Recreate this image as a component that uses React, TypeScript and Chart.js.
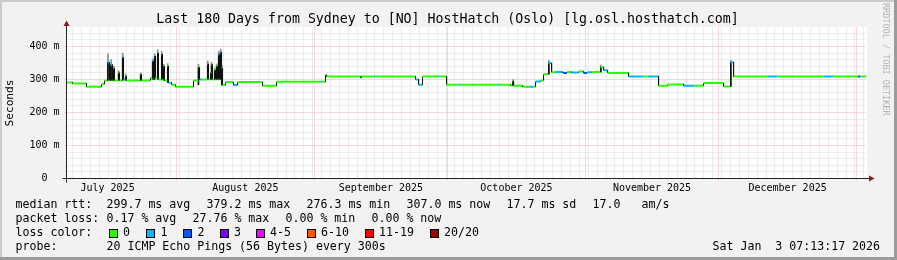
import React, { useEffect, useRef } from "react";
import { Chart, registerables } from "chart.js";

Chart.register(...registerables);

const W = 897;
const H = 260;
const MONO = "'DejaVu Sans Mono', monospace";

const TITLE = "Last 180 Days from Sydney to [NO] HostHatch (Oslo) [lg.osl.hosthatch.com]";

// x unit: days since 2025-07-01 00:00 (Sydney time)
const X_START = 6.26;
const X_END = 186.26;
const MONTH_STARTS = [31, 62, 92, 123, 153, 184];
const MONTH_MIDS = [15.5, 46.5, 77, 107.5, 138, 168.5];
const MONTH_LABELS = ["July 2025", "August 2025", "September 2025", "October 2025", "November 2025", "December 2025"];
const MINOR_X_FIRST = 7.66;
const MINOR_X_STEP = 2;

const Y_MAX = 457.5;
const Y_TICKS = [0, 100, 200, 300, 400];
const Y_TICK_LABELS = ["0  ", "100 m", "200 m", "300 m", "400 m"];
const Y_MINOR_STEP = 20;

// median rtt (ms) as steps: start day, value, loss level index
const medianDay = [
  6.26, 7.61, 10.76, 14.14, 14.81, 15.49, 15.94, 16.16, 16.61, 16.84,
  17.06, 17.96, 18.19, 18.86, 19.09, 19.54, 19.76, 22.91, 23.14, 25.16,
  25.61, 25.84, 26.06, 26.29, 26.74, 26.96, 27.64, 27.86, 28.09, 28.31,
  28.99, 29.21, 29.89, 30.79, 34.84, 35.96, 36.19, 36.86, 37.99, 38.21,
  38.66, 38.89, 39.11, 39.56, 39.79, 40.01, 40.24, 40.46, 40.69, 40.91,
  41.14, 41.36, 42.04, 43.84, 44.74, 50.36, 53.51, 63.42, 63.87, 64.54,
  64.77, 72.42, 72.64, 75.34, 75.79, 84.79, 85.47, 86.37, 89.74, 90.19,
  91.77, 94.47, 94.92, 103.24, 103.69, 106.17, 106.62, 106.85, 108.87, 110.5,
  111.2, 111.8, 112.92, 113.6, 114.72, 115.4, 116.3, 118.0, 118.9, 120.0,
  121.5, 122.6, 123.4, 124.5, 126.42, 127.1, 128.0, 132.72, 136.0, 137.0,
  139.47, 141.5, 145.1, 147.5, 149.6, 154.1, 155.67, 156.35, 163.96, 166.25,
  176.6, 178.85, 184.26, 184.93,
];
const medianMs = [
  291, 288, 278, 286, 297, 352, 297, 345, 297, 333,
  297, 320, 297, 366, 300, 310, 297, 315, 297, 305,
  355, 300, 370, 305, 380, 300, 376, 300, 340, 297,
  340, 290, 284, 278, 297, 336, 300, 300, 347, 300,
  322, 345, 300, 328, 300, 340, 300, 375, 300, 382,
  335, 283, 292, 283, 292, 281, 293, 293, 293, 314,
  309, 305, 309, 309, 309, 300, 284, 309, 309, 309,
  284, 284, 284, 284, 284, 282, 294, 281, 278, 278,
  278, 294, 297, 316, 350, 322, 323, 320, 323, 321,
  324, 320, 322, 323, 338, 328, 320, 309, 309, 309,
  281, 285, 281, 281, 289, 279, 352, 309, 309, 309,
  309, 309, 309, 309,
];
const medianLoss = [
  0, 0, 0, 0, 0, 1, 0, 1, 0, 0,
  0, 0, 0, 1, 1, 0, 0, 0, 0, 0,
  1, 0, 1, 0, 1, 0, 0, 0, 0, 0,
  0, 1, 0, 0, 0, 0, 1, 0, 0, 0,
  0, 0, 0, 0, 0, 0, 0, 1, 0, 1,
  0, 0, 0, 1, 0, 0, 0, 1, 0, 0,
  0, 0, 0, 1, 0, 1, 1, 0, 1, 0,
  0, 1, 0, 1, 0, 0, 0, 0, 0, 1,
  0, 1, 0, 0, 1, 0, 1, 2, 0, 1,
  0, 2, 1, 0, 0, 1, 0, 1, 0, 1,
  0, 0, 1, 0, 0, 0, 1, 0, 1, 0,
  1, 0, 2, 0,
];

// smoke (ping spread) around spikes: day, low, dense high, sparse top (ms)
const smokeDay = [15.6, 16.3, 16.9, 18.0, 18.9, 19.6, 22.95, 25.65, 26.1, 26.8, 27.7, 28.15, 29.05, 35.95, 38.05, 38.9, 39.6, 40.05, 40.5, 40.95, 41.2, 106.7, 114.8, 126.5, 155.75];
const smokeLow = [297, 297, 297, 297, 297, 297, 297, 300, 300, 300, 300, 297, 290, 284, 300, 300, 300, 300, 300, 300, 283, 281, 316, 322, 279];
const smokeHigh = [352, 345, 333, 320, 366, 310, 315, 355, 370, 380, 376, 340, 340, 336, 347, 345, 328, 340, 375, 382, 335, 294, 350, 338, 352];
const smokeTop = [378, 360, 340, 326, 380, 316, 320, 362, 378, 390, 385, 346, 348, 346, 356, 353, 334, 347, 385, 392, 342, 300, 357, 344, 358];

const LOSS_BINS = ["0", "1", "2", "3", "4-5", "6-10", "11-19", "20/20"];
const LOSS_COLORS = ["#26ff00", "#00b8ff", "#0059ff", "#7e00ff", "#f000ff", "#ff5500", "#ff0000", "#a10000"];

const RTT_LABEL = "median rtt:";
const RTT_STATS = ["299.7 ms avg", "379.2 ms max", "276.3 ms min", "307.0 ms now", "17.7 ms sd", "17.0", "am/s"];
const LOSS_LABEL = "packet loss:";
const LOSS_STATS = ["0.17 % avg", "27.76 % max", "0.00 % min", "0.00 % now"];
const LOSS_COLOR_LABEL = "loss color:";
const PROBE_LABEL = "probe:";
const PROBE_TEXT = "20 ICMP Echo Pings (56 Bytes) every 300s";
const STAMP = "Sat Jan  3 07:13:17 2026";
const WATERMARK = "RRDTOOL / TOBI OETIKER";
const Y_TITLE = "Seconds";

// layout positions (px)
const RTT_X = [106.5, 206.5, 306.5, 406.5, 506.5, 592.5, 641.5];
const LOSS_X = [106.5, 192.5, 285.5, 371.5];
const BIN_LABEL_X = [123, 160.5, 197.5, 234, 270, 321, 379, 444];
const ROW_TOP = [196.5, 210.6, 225, 238.5];

const snap = (v: number) => Math.floor(v) + 0.5;

const framePlugin = {
  id: "rrdframe",
  beforeDraw(chart: any) {
    const { ctx, chartArea } = chart;
    ctx.save();
    ctx.fillStyle = "#f2f2f2";
    ctx.fillRect(0, 0, W, H);
    ctx.fillStyle = "#cbcbcb";
    ctx.fillRect(0, 0, W, 2);
    ctx.fillRect(0, 0, 2, H);
    ctx.fillStyle = "#9b9b9b";
    ctx.fillRect(0, H - 3, W, 3);
    ctx.fillRect(W - 3, 0, 3, H);
    ctx.fillStyle = "#ffffff";
    const l = Math.floor(chartArea.left);
    const t = Math.floor(chartArea.top);
    ctx.fillRect(l, t, Math.ceil(chartArea.right) - l, Math.ceil(chartArea.bottom) - t);
    ctx.restore();
  },
  beforeDatasetsDraw(chart: any) {
    const { ctx, chartArea, scales } = chart;
    const x = scales.x;
    const y = scales.y;
    ctx.save();
    ctx.lineWidth = 1;
    ctx.setLineDash([1, 1]);
    // minor grid
    ctx.strokeStyle = "#dadada";
    for (let v = Y_MINOR_STEP; v < Y_MAX; v += Y_MINOR_STEP) {
      if (v % 100 === 0) continue;
      const py = snap(y.getPixelForValue(v));
      ctx.beginPath();
      ctx.moveTo(chartArea.left, py);
      ctx.lineTo(chartArea.right, py);
      ctx.stroke();
    }
    for (let d = MINOR_X_FIRST; d <= X_END; d += MINOR_X_STEP) {
      const px = snap(x.getPixelForValue(d));
      ctx.beginPath();
      ctx.moveTo(px, chartArea.top);
      ctx.lineTo(px, chartArea.bottom);
      ctx.stroke();
    }
    // major grid
    ctx.strokeStyle = "#efb0b0";
    for (const v of Y_TICKS) {
      if (v === 0) continue;
      const py = snap(y.getPixelForValue(v));
      ctx.beginPath();
      ctx.moveTo(chartArea.left - 2, py);
      ctx.lineTo(chartArea.right, py);
      ctx.stroke();
    }
    for (const d of MONTH_STARTS) {
      if (d > X_END) continue;
      const px = snap(x.getPixelForValue(d));
      ctx.beginPath();
      ctx.moveTo(px, chartArea.top);
      ctx.lineTo(px, chartArea.bottom + 2);
      ctx.stroke();
    }
    ctx.restore();
  },
  afterDraw(chart: any) {
    const { ctx, scales } = chart;
    const x = scales.x;
    const y = scales.y;
    const ax = snap(x.getPixelForValue(X_START));
    const ay = snap(y.getPixelForValue(0));
    const right = x.getPixelForValue(X_END);
    const top = y.getPixelForValue(Y_MAX);
    ctx.save();
    ctx.setLineDash([]);
    ctx.lineWidth = 1;
    ctx.strokeStyle = "#222";
    ctx.beginPath();
    ctx.moveTo(ax - 4, ay);
    ctx.lineTo(right + 3, ay);
    ctx.stroke();
    ctx.beginPath();
    ctx.moveTo(ax, ay + 4);
    ctx.lineTo(ax, top - 2);
    ctx.stroke();
    ctx.fillStyle = "#8a1c1c";
    ctx.beginPath();
    ctx.moveTo(right + 2.5, ay - 3);
    ctx.lineTo(right + 8, ay);
    ctx.lineTo(right + 2.5, ay + 3);
    ctx.closePath();
    ctx.fill();
    ctx.beginPath();
    ctx.moveTo(ax - 3, top - 1.5);
    ctx.lineTo(ax, top - 7);
    ctx.lineTo(ax + 3, top - 1.5);
    ctx.closePath();
    ctx.fill();
    ctx.restore();
  },
};

export default function App() {
  const ref = useRef<HTMLCanvasElement | null>(null);

  useEffect(() => {
    const medianPts: { x: number; y: number }[] = [];
    const medianPtLoss: number[] = [];
    for (let i = 0; i < medianDay.length; i++) {
      const end = i + 1 < medianDay.length ? medianDay[i + 1] : X_END;
      medianPts.push({ x: medianDay[i], y: medianMs[i] });
      medianPtLoss.push(medianLoss[i]);
      medianPts.push({ x: end, y: medianMs[i] });
      medianPtLoss.push(medianLoss[i]);
    }
    const isVertical = (c: any) => c.p0.parsed.y !== c.p1.parsed.y;

    const chart = new Chart(ref.current as HTMLCanvasElement, {
      type: "bar",
      data: {
        datasets: [
          {
            type: "bar",
            label: "smoke sparse",
            data: smokeDay.map((d, i) => ({ x: d, y: [smokeHigh[i], smokeTop[i]] })) as any,
            backgroundColor: "#8c8c8c",
            barThickness: 1,
            grouped: false,
            order: 3,
          },
          {
            type: "bar",
            label: "smoke dense",
            data: smokeDay.map((d, i) => ({ x: d, y: [smokeLow[i], smokeHigh[i]] })) as any,
            backgroundColor: "#151515",
            barThickness: 1,
            grouped: false,
            order: 2,
          },
          {
            type: "line",
            label: "median rtt",
            data: medianPts as any,
            pointRadius: 0,
            borderWidth: 2,
            borderColor: LOSS_COLORS[0],
            tension: 0,
            fill: false,
            order: 1,
            segment: {
              borderColor: (c: any) => (isVertical(c) ? "#111" : LOSS_COLORS[medianPtLoss[c.p0DataIndex]]),
              borderWidth: (c: any) => (isVertical(c) ? 1 : 2),
            },
          } as any,
        ],
      },
      options: {
        responsive: false,
        animation: false,
        devicePixelRatio: 1,
        layout: { padding: { left: 0, right: 30.5, top: 27.5, bottom: 62 }, autoPadding: false } as any,
        plugins: {
          legend: { display: false },
          tooltip: { enabled: false },
          title: { display: false },
        },
        scales: {
          x: {
            type: "linear",
            min: X_START,
            max: X_END,
            offset: false,
            grid: { display: false, drawTicks: false },
            border: { display: false },
            afterBuildTicks: (s: any) => {
              s.ticks = MONTH_MIDS.map((v) => ({ value: v }));
            },
            afterFit: (s: any) => {
              s.height = 19.5;
            },
            ticks: {
              autoSkip: false,
              maxRotation: 0,
              minRotation: 0,
              padding: 3.5,
              color: "#000",
              font: { family: MONO, size: 10 },
              callback: (_v: any, i: number) => MONTH_LABELS[i],
            },
          },
          y: {
            type: "linear",
            min: 0,
            max: Y_MAX,
            grid: { display: false, drawTicks: false },
            border: { display: false },
            afterBuildTicks: (s: any) => {
              s.ticks = Y_TICKS.map((v) => ({ value: v }));
            },
            afterFit: (s: any) => {
              s.width = 66.5;
            },
            ticks: {
              padding: 7,
              color: "#000",
              font: { family: MONO, size: 10 },
              callback: (_v: any, i: number) => Y_TICK_LABELS[i],
            },
            title: {
              display: true,
              text: Y_TITLE,
              color: "#000",
              font: { family: MONO, size: 11.2 },
              padding: { top: 3.5, bottom: 0 },
            },
          },
        },
      } as any,
      plugins: [framePlugin],
    });
    return () => chart.destroy();
  }, []);

  const text = (extra: React.CSSProperties): React.CSSProperties => ({
    position: "absolute",
    fontFamily: MONO,
    fontSize: 11.6,
    lineHeight: "14px",
    whiteSpace: "pre",
    color: "#000",
    ...extra,
  });

  return (
    <div style={{ position: "absolute", left: 0, top: 0, width: W, height: H, overflow: "hidden" }}>
      <canvas ref={ref} width={W} height={H} style={{ display: "block", width: W, height: H }} />
      <div
        style={{
          position: "absolute",
          left: -1,
          top: 11.3,
          width: W,
          textAlign: "center",
          fontFamily: MONO,
          fontSize: 13.25,
          lineHeight: "16px",
          whiteSpace: "pre",
          color: "#000",
        }}
      >
        {TITLE}
      </div>
      <div
        style={{
          position: "absolute",
          left: 880.5,
          top: 2.5,
          width: 10,
          writingMode: "vertical-rl",
          fontFamily: MONO,
          fontSize: 8.5,
          lineHeight: "10px",
          whiteSpace: "pre",
          color: "#b4b4b4",
        }}
      >
        {WATERMARK}
      </div>

      <span style={text({ left: 15.5, top: ROW_TOP[0] })}>{RTT_LABEL}</span>
      {RTT_STATS.map((s, i) => (
        <span key={"r" + i} style={text({ left: RTT_X[i], top: ROW_TOP[0] })}>
          {s}
        </span>
      ))}

      <span style={text({ left: 15.5, top: ROW_TOP[1] })}>{LOSS_LABEL}</span>
      {LOSS_STATS.map((s, i) => (
        <span key={"l" + i} style={text({ left: LOSS_X[i], top: ROW_TOP[1] })}>
          {s}
        </span>
      ))}

      <span style={text({ left: 15.5, top: ROW_TOP[2] })}>{LOSS_COLOR_LABEL}</span>
      {LOSS_BINS.map((b, i) => (
        <React.Fragment key={"b" + i}>
          <span
            style={{
              position: "absolute",
              left: BIN_LABEL_X[i] - 14.5,
              top: 229,
              width: 9,
              height: 9,
              boxSizing: "border-box",
              border: "1px solid #000",
              background: LOSS_COLORS[i],
            }}
          />
          <span style={text({ left: BIN_LABEL_X[i], top: ROW_TOP[2] })}>{b}</span>
        </React.Fragment>
      ))}

      <span style={text({ left: 15.5, top: ROW_TOP[3] })}>{PROBE_LABEL}</span>
      <span style={text({ left: 106.5, top: ROW_TOP[3] })}>{PROBE_TEXT}</span>
      <span style={text({ left: 712.5, top: ROW_TOP[3] })}>{STAMP}</span>
    </div>
  );
}
